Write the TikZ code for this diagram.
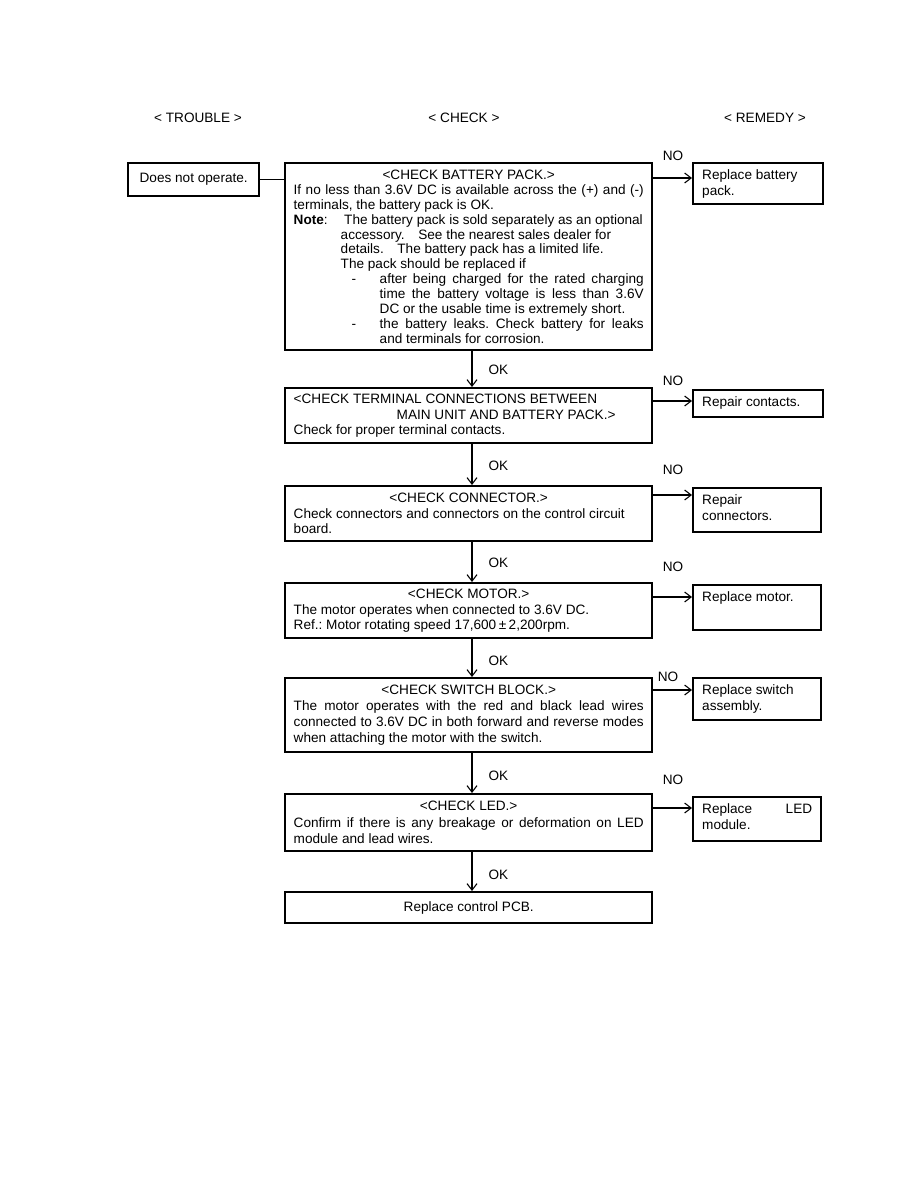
\documentclass[tikz,border=0pt]{standalone}
\usepackage{fontspec}
\setmainfont{Liberation Sans}
\usetikzlibrary{arrows.meta,calc}
\frenchspacing
\newcommand\mbx[3]{\begin{minipage}[c][#1][c]{350pt}\frenchspacing\fontsize{13.6}{#2}\selectfont #3\end{minipage}}
\newcommand\rbx[3]{\begin{minipage}[c][#1][t]{#2}\fontsize{13.6}{16}\selectfont\vspace*{5pt}\strut #3\end{minipage}}
\begin{document}
\begin{tikzpicture}[x=1pt,y=-1pt,
  font=\fontsize{13.6}{15}\selectfont,
  box/.style={draw, line width=2.4pt, anchor=north west, inner xsep=8.5pt, inner ysep=0pt},
  rbox/.style={draw, line width=2.4pt, anchor=north west, inner xsep=9pt, inner ysep=0pt},
  arr/.style={line width=1.1pt, -{Straight Barb[length=6.5pt,width=10pt]}},
  lbl/.style={inner sep=0pt}]
\useasboundingbox (0,0) rectangle (918,1188);

% headers
\node[lbl] (h1) at (198,118) {< TROUBLE >};
\node[lbl] (h2) at (464,118) {< CHECK >};
\node[lbl] (h3) at (765,118) {< REMEDY >};

% trouble
\node[box, inner xsep=0pt, minimum width=131pt, minimum height=33pt] (dno) at (127,162) {Does not operate.};

% checks
\node[box] (bat) at (284,162) {\mbx{187pt}{14.9}{%
{\centering <CHECK BATTERY PACK.>\par}
If no less than 3.6V DC is available across the (+) and (-)\linebreak terminals, the battery pack is OK.\par
\hangindent=47pt \hangafter=1
\makebox[50.5pt][l]{\textbf{Note}:}The battery pack is sold separately as an optional\\
accessory.\quad See the nearest sales dealer for\\
details.\quad The battery pack has a limited life.\\
The pack should be replaced if\par
{\leftskip=86pt
\leavevmode\llap{\makebox[28pt][l]{-}}after being charged for the rated charging\linebreak time the battery voltage is less than 3.6V\linebreak DC or the usable time is extremely short.\par
\leavevmode\llap{\makebox[28pt][l]{-}}the battery leaks. Check battery for leaks\linebreak and terminals for corrosion.\par}}};

\node[box] (term) at (284,387) {\mbx{55pt}{15.5}{%
<CHECK TERMINAL CONNECTIONS BETWEEN\\
\hspace*{103pt}MAIN UNIT AND BATTERY PACK.>\\
Check for proper terminal contacts.}};

\node[box] (conn) at (284,485) {\mbx{55pt}{15.5}{%
{\centering <CHECK CONNECTOR.>\par}
Check connectors and connectors on the control circuit\\
board.}};

\node[box] (mot) at (284,582) {\mbx{55pt}{15.5}{%
{\centering <CHECK MOTOR.>\par}
The motor operates when connected to 3.6V DC.\\
Ref.: Motor rotating speed 17,600\hspace{2.5pt}±\hspace{2.5pt}2,200rpm.}};

\node[box] (sw) at (284,677) {\mbx{74pt}{16.3}{%
{\centering <CHECK SWITCH BLOCK.>\par}
The motor operates with the red and black lead wires\linebreak connected to 3.6V DC in both forward and reverse modes\linebreak when attaching the motor with the switch.}};

\node[box] (led) at (284,793) {\mbx{57pt}{16.5}{%
{\centering <CHECK LED.>\par}
Confirm if there is any breakage or deformation on LED\linebreak module and lead wires.}};

\node[box] (pcb) at (284,891) {\mbx{31pt}{15}{\centering Replace control PCB.}};

% remedies
\node[rbox] (r1) at (692,162) {\rbx{41pt}{112pt}{Replace battery\\pack.}};
\node[rbox] (r2) at (692,389) {\rbx{27pt}{112pt}{Repair contacts.}};
\node[rbox] (r3) at (692,487) {\rbx{44pt}{110pt}{Repair\\connectors.}};
\node[rbox] (r4) at (692,584) {\rbx{45pt}{110pt}{Replace motor.}};
\node[rbox] (r5) at (692,677) {\rbx{42pt}{110pt}{Replace switch\\assembly.}};
\node[rbox] (r6) at (692,796) {\rbx{44pt}{110pt}{Replace\hfill LED\\module.}};

% trouble to first check
\draw[line width=1.1pt] (dno.east) -- (dno.east -| bat.west);

% OK arrows
\coordinate (ax) at (472,0);
\draw[arr] (ax |- bat.south) -- node[lbl, right=16pt, yshift=-1pt] (ok1) {OK} (ax |- term.north);
\draw[arr] (ax |- term.south) -- node[lbl, right=16pt, yshift=-1pt] (ok2) {OK} (ax |- conn.north);
\draw[arr] (ax |- conn.south) -- node[lbl, right=16pt, yshift=-1pt] (ok3) {OK} (ax |- mot.north);
\draw[arr] (ax |- mot.south) -- node[lbl, right=16pt, yshift=-3pt] (ok4) {OK} (ax |- sw.north);
\draw[arr] (ax |- sw.south) -- node[lbl, right=16pt, yshift=-3pt] (ok5) {OK} (ax |- led.north);
\draw[arr] (ax |- led.south) -- node[lbl, right=16pt, yshift=-3pt] (ok6) {OK} (ax |- pcb.north);

% NO arrows
\coordinate (n1) at ($(bat.north east)+(0,16)$);
\coordinate (n2) at ($(term.north east)+(0,14)$);
\coordinate (n3) at ($(conn.north east)+(0,10)$);
\coordinate (n4) at ($(mot.north east)+(0,15)$);
\coordinate (n5) at ($(sw.north east)+(0,13)$);
\coordinate (n6) at ($(led.north east)+(0,15)$);
\draw[arr] (n1) -- (n1 -| r1.west);
\draw[arr] (n2) -- (n2 -| r2.west);
\draw[arr] (n3) -- (n3 -| r3.west);
\draw[arr] (n4) -- (n4 -| r4.west);
\draw[arr] (n5) -- (n5 -| r5.west);
\draw[arr] (n6) -- (n6 -| r6.west);

\node[lbl] (no1) at (673,156) {NO};
\node[lbl] (no2) at (673,381) {NO};
\node[lbl] (no3) at (673,470) {NO};
\node[lbl] (no4) at (673,567) {NO};
\node[lbl] (no5) at (668,677) {NO};
\node[lbl] (no6) at (673,780) {NO};
\end{tikzpicture}
\end{document}
